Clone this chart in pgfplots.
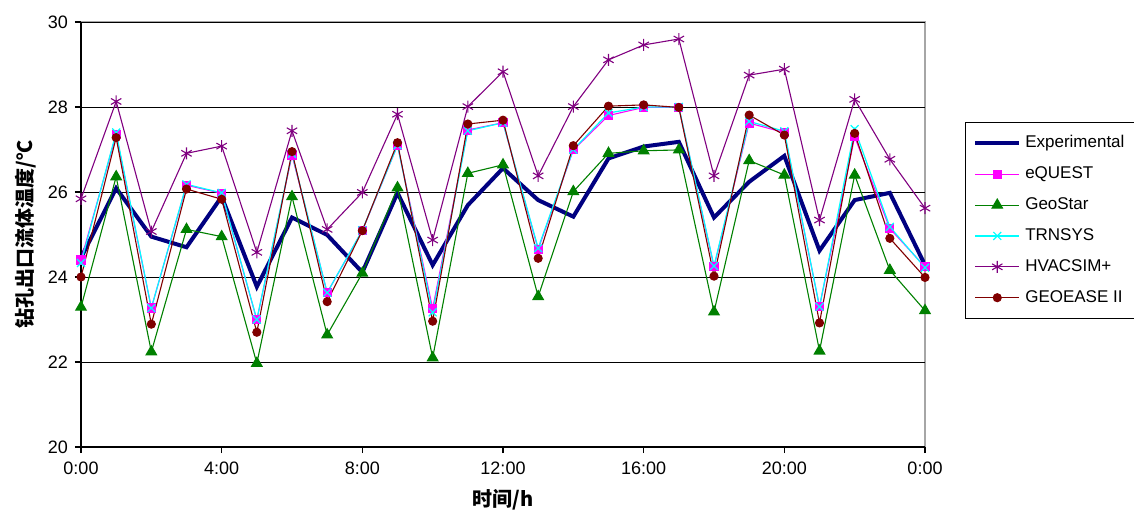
\documentclass[border=0pt]{standalone}
\usepackage{pgfplots}
\pgfplotsset{compat=1.18}
\usepackage{pgfplotstable}
\usepackage{fontspec}
\setmainfont{Liberation Sans}
\newfontfamily\cjk{Noto Sans CJK SC}

\definecolor{expblue}{RGB}{0,0,128}
\definecolor{eqmag}{RGB}{255,0,255}
\definecolor{gsgreen}{RGB}{0,128,0}
\definecolor{trcyan}{RGB}{0,255,255}
\definecolor{hvpurple}{RGB}{128,0,128}
\definecolor{gedred}{RGB}{128,0,0}

% legend sample: a coloured line with one mark in its middle
\pgfplotsset{
  sample/.style n args={3}{
    legend image code/.code={
      \draw[draw=#1, line width=0.55pt] (0pt,0pt) -- (22pt,0pt);
      \draw[draw=#1, fill=#1, line width=0.55pt] plot[mark=#2, mark size=#3] coordinates {(11pt,0pt)};
    }
  }
}

% Borehole outlet fluid temperature over one day (hour, deg C)
\pgfplotstableread{
h  exp    eq     gs     tr     hv     ge
0  24.45  24.40  23.29  24.33  25.84  24.00
1  26.09  27.35  26.36  27.40  28.13  27.28
2  24.95  23.27  22.24  23.27  25.07  22.89
3  24.70  26.16  25.12  26.18  26.91  26.07
4  25.89  25.97  24.95  25.98  27.08  25.83
5  23.77  22.99  21.97  23.00  24.58  22.70
6  25.40  26.87  25.89  26.90  27.44  26.95
7  24.99  23.63  22.64  23.63  25.12  23.42
8  24.11  25.09  24.09  25.10  25.99  25.09
9  25.98  27.10  26.10  27.10  27.83  27.16
10 24.28  23.26  22.10  23.17  24.87  22.96
11 25.69  27.46  26.44  27.44  28.01  27.60
12 26.56  27.63  26.64  27.63  28.83  27.69
13 25.81  24.65  23.54  24.68  26.38  24.44
14 25.42  26.99  26.01  27.00  28.01  27.09
15 26.79  27.80  26.91  27.86  29.11  28.02
16 27.07  27.99  26.97  28.00  29.46  28.05
17 27.18  27.99  26.99  28.00  29.60  27.99
18 25.40  24.24  23.18  24.26  26.38  24.02
19 26.24  27.62  26.74  27.66  28.75  27.81
20 26.85  27.40  26.40  27.43  28.89  27.34
21 24.62  23.30  22.26  23.30  25.34  22.92
22 25.81  27.30  26.40  27.48  28.18  27.38
23 25.98  25.14  24.16  25.18  26.77  24.91
24 24.28  24.24  23.21  24.22  25.62  23.99
}\datatable

\begin{document}
\begin{tikzpicture}
\path[use as bounding box] (-40.5pt,-34pt) rectangle (526.5pt,223.5pt);
\begin{axis}[
  at={(0,0)}, anchor=south west,
  scale only axis,
  width=422pt, height=212.5pt,
  xmin=0, xmax=24, ymin=20, ymax=30,
  xtick={0,4,...,24},
  xticklabels={0:00,4:00,8:00,12:00,16:00,20:00,0:00},
  ytick={20,22,...,30},
  axis x line=bottom, axis y line=left,
  axis line style={-, black, line width=0.6pt},
  axis background/.style={draw=gray!70, line width=0.6pt},
  tick align=outside, major tick length=3pt,
  tick style={black, line width=0.6pt},
  ymajorgrids, major grid style={black, line width=0.5pt},
  /pgf/number format/assume math mode=true,
  tick label style={font=\fontsize{9}{10}\selectfont},
  xticklabel style={yshift=-1pt},
  xlabel={\cjk\bfseries 时间/h},
  ylabel={\cjk\bfseries 钻孔出口流体温度/℃},
  every axis x label/.style={at={(axis description cs:0.5,-0.125)}, anchor=center, font=\fontsize{10}{12}\selectfont},
  every axis y label/.style={at={(axis description cs:-0.066,0.5)}, rotate=90, anchor=center, font=\fontsize{10}{12}\selectfont},
  legend style={at={(axis description cs:1.047,0.765)}, anchor=north west,
    draw=black, line width=0.6pt, font=\fontsize{8.5}{10}\selectfont,
    row sep=4pt, inner xsep=4pt, inner ysep=4.5pt},
  legend cell align=left,
]
\addplot[color=expblue, line width=2pt, mark=none,
  legend image code/.code={\draw[draw=expblue, line width=2pt] (0pt,0pt) -- (22pt,0pt);}]
  table[x=h,y=exp] {\datatable};
\addlegendentry{Experimental}
\addplot[color=eqmag, line width=0.55pt, mark=square*, mark size=2pt, mark options={solid, fill=eqmag},
  sample={eqmag}{square*}{2pt}]
  table[x=h,y=eq] {\datatable};
\addlegendentry{eQUEST}
\addplot[color=gsgreen, line width=0.55pt, mark=triangle*, mark size=3pt, mark options={solid, fill=gsgreen},
  sample={gsgreen}{triangle*}{3pt}]
  table[x=h,y=gs] {\datatable};
\addlegendentry{GeoStar}
\addplot[color=trcyan, line width=0.6pt, mark=x, mark size=2.8pt, mark options={solid},
  sample={trcyan}{x}{2.8pt}]
  table[x=h,y=tr] {\datatable};
\addlegendentry{TRNSYS}
\addplot[color=hvpurple, line width=0.55pt, mark=asterisk, mark size=3pt, mark options={solid},
  sample={hvpurple}{asterisk}{3pt}]
  table[x=h,y=hv] {\datatable};
\addlegendentry{HVACSIM+}
\addplot[color=gedred, line width=0.55pt, mark=*, mark size=2pt, mark options={solid, fill=gedred},
  sample={gedred}{*}{2pt}]
  table[x=h,y=ge] {\datatable};
\addlegendentry{GEOEASE II}
\end{axis}
\end{tikzpicture}
\end{document}
